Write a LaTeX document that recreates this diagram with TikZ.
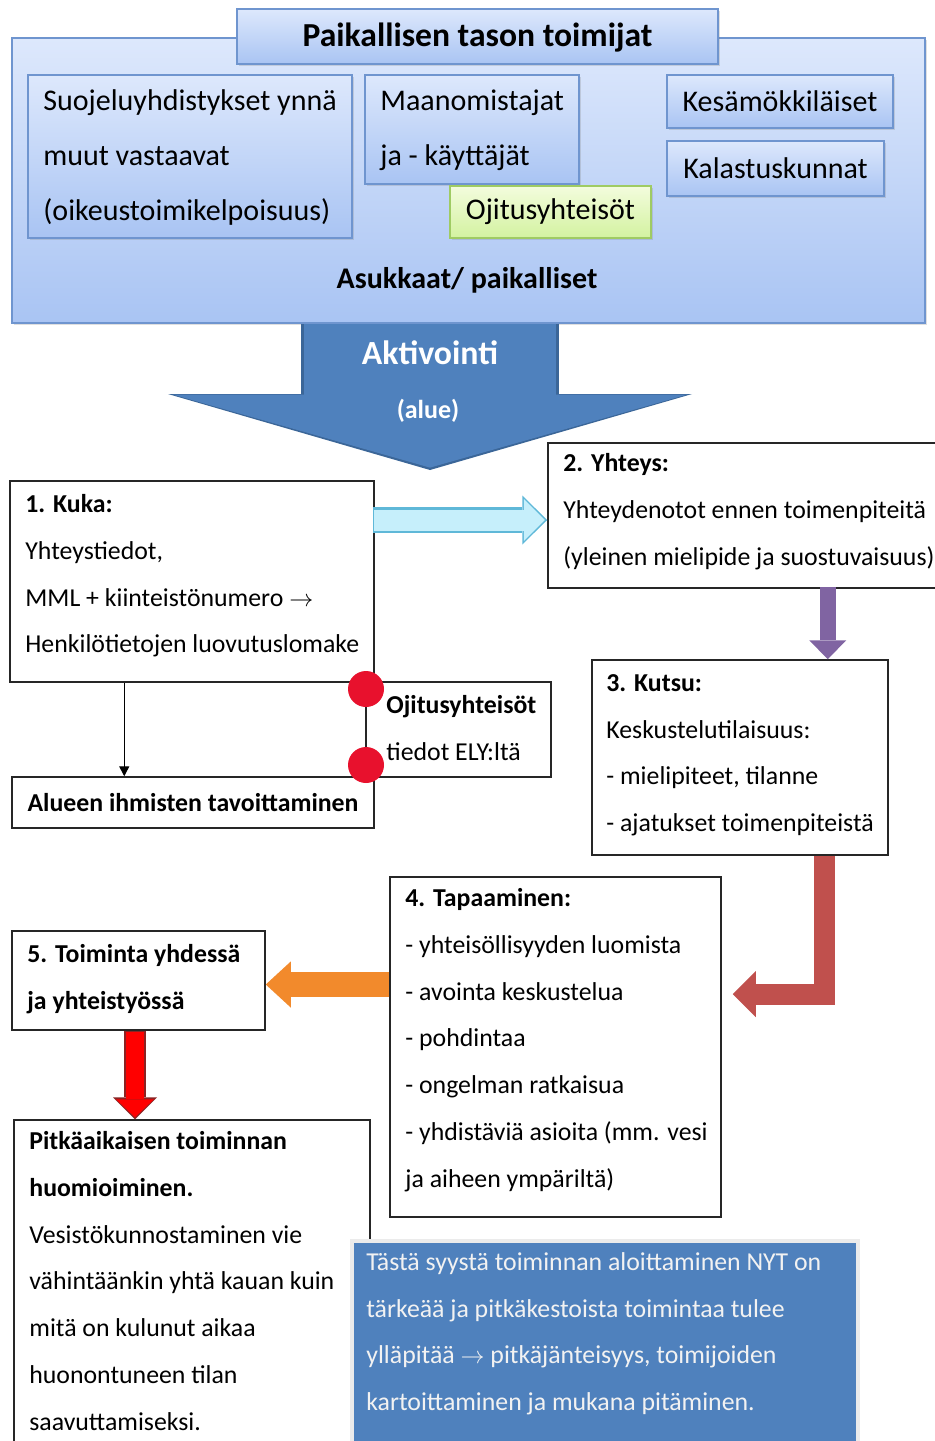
\documentclass[tikz,border=0pt]{standalone}
\usepackage{fontspec}
\setmainfont{Carlito}
\usetikzlibrary{arrows.meta,fit,calc,shadows}

\definecolor{frameblue}{HTML}{6F95CF}
\definecolor{paleblue}{HTML}{DDE8FC}
\definecolor{midblue}{HTML}{A9C4F3}
\definecolor{palegreen}{HTML}{F3FCDD}
\definecolor{midgreen}{HTML}{D3F2A0}
\definecolor{greenframe}{HTML}{9FCB63}
\definecolor{steel}{HTML}{4F81BD}
\definecolor{steeldark}{HTML}{3B6698}
\definecolor{skyfill}{HTML}{C6EFFB}
\definecolor{skyframe}{HTML}{5FB8D8}
\definecolor{violet}{HTML}{8064A2}
\definecolor{brick}{HTML}{C0504D}
\definecolor{tangerine}{HTML}{F28A2C}
\definecolor{dotred}{HTML}{E8112D}
\definecolor{darkred}{HTML}{8B2323}

\tikzset{
  panel/.style={draw=frameblue, line width=0.8pt, top color=paleblue, bottom color=midblue,
    inner sep=0pt, drop shadow={opacity=0.25, shadow xshift=0.8pt, shadow yshift=-1.2pt}},
  greenpanel/.style={panel, draw=greenframe, top color=palegreen, bottom color=midgreen},
  plainbox/.style={draw=black!85, line width=0.75pt, fill=white, inner sep=0pt},
  toptext/.style={font=\fontsize{15}{27.5}\selectfont, align=left, inner sep=0pt, anchor=north west},
  boxtext/.style={font=\fontsize{12.9}{23.4}\selectfont, align=left, inner sep=0pt, anchor=north west},
  midtext/.style={inner sep=0pt, anchor=center},
  reddot/.style={circle, fill=dotred, minimum size=18pt, inner sep=0pt},
  fat/.style n args={3}{line width=#1, line join=miter, -{Triangle[width=#2, length=#3, line width=0pt]}}
}

\begin{document}
\begin{tikzpicture}[x=0.5pt, y=-0.5pt]
\useasboundingbox (0,0) rectangle (935,1441);
\clip (0,0) rectangle (935,1441);

% toimijat
\node[panel, fit={(12,38) (925,323)}] (outer) {};
\node[panel, fit={(237,9) (718,64)}] (title) {};
\node[midtext, font=\fontsize{16.8}{20}\selectfont\bfseries] (titletxt) at ($(title)+(0,1)$) {Paikallisen tason toimijat};
\node[panel, fit={(28,75) (352,238)}] (suojelu) {};
\node[toptext] (suojelutxt) at (43,89) {Suojeluyhdistykset ynnä\\muut vastaavat\\(oikeustoimikelpoisuus)};
\node[panel, fit={(365,75) (579,184)}] (maan) {};
\node[toptext] (maantxt) at (380,89) {Maanomistajat\\ja - käyttäjät};
\node[greenpanel, fit={(450,186) (651,238)}] (ojitus) {};
\node[midtext, font=\fontsize{15}{18}\selectfont] (ojitustxt) at (ojitus) {Ojitusyhteisöt};
\node[panel, fit={(667,75) (893,128)}] (kesa) {};
\node[midtext, font=\fontsize{15}{18}\selectfont] (kesatxt) at (kesa) {Kesämökkiläiset};
\node[panel, fit={(667,141) (884,196)}] (kala) {};
\node[midtext, font=\fontsize{15}{18}\selectfont] (kalatxt) at (kala) {Kalastuskunnat};
\node[midtext, font=\fontsize{15}{18}\selectfont\bfseries] (asukkaat) at (467,280) {Asukkaat/ paikalliset};

% aktivointi
\coordinate (aktip) at (430,470);
\draw[fat={129pt}{262pt}{38pt}, steeldark] (aktip |- outer.south) -- (aktip);
\draw[fat={126pt}{257pt}{36.5pt}, steel, shorten >=1.2pt] (aktip |- outer.south) -- (aktip);
\node[midtext, font=\fontsize{16.9}{20}\selectfont\bfseries, text=white] (akt) at (430,353) {Aktivointi};
\node[midtext, font=\fontsize{13}{15}\selectfont\bfseries, text=white] (aluetxt) at (428,411) {(alue)};

% vaiheet
\node[plainbox, fit={(10,481) (374,682)}] (kuka) {};
\node[boxtext] (kukatxt) at (25,494) {\textbf{1. Kuka:}\\Yhteystiedot,\\MML + kiinteistönumero $\rightarrow$\\Henkilötietojen luovutuslomake};
\node[plainbox, fit={(12,777) (374,828)}] (alue) {};
\node[midtext, font=\fontsize{12.9}{15}\selectfont\bfseries] (aluetxt2) at (alue) {Alueen ihmisten tavoittaminen};
\node[plainbox, fit={(366,682) (551,777)}] (ely) {};
\node[boxtext] (elytxt) at (386,695) {\textbf{Ojitusyhteisöt}\\tiedot ELY:ltä};
\node[reddot] (dot1) at (366,689) {};
\node[reddot] (dot2) at (366,765) {};
\node[plainbox, fit={(548,443) (940,588)}] (yhteys) {};
\node[boxtext] (yhteystxt) at (563,453) {\textbf{2. Yhteys:}\\Yhteydenotot ennen toimenpiteitä\\(yleinen mielipide ja suostuvaisuus)};
\node[plainbox, fit={(592,660) (888,855)}] (kutsu) {};
\node[boxtext] (kutsutxt) at (606,674) {\textbf{3. Kutsu:}\\Keskustelutilaisuus:\\- mielipiteet, tilanne\\- ajatukset toimenpiteistä};
\node[plainbox, fit={(390,877) (721,1217)}] (tapaaminen) {};
\node[boxtext] (tapaamistxt) at (405,888) {\textbf{4. Tapaaminen:}\\- yhteisöllisyyden luomista\\- avointa keskustelua\\- pohdintaa\\- ongelman ratkaisua\\- yhdistäviä asioita (mm. vesi\\ja aiheen ympäriltä)};
\node[plainbox, fit={(12,931) (265,1030)}] (toiminta) {};
\node[boxtext, font=\fontsize{12.9}{23.4}\selectfont\bfseries] (toimintatxt) at (27,944) {5. Toiminta yhdessä\\ja yhteistyössä};
\node[plainbox, fit={(14,1120) (370,1470)}] (pitk) {};
\node[boxtext] (pitktxt) at (29,1131) {\textbf{Pitkäaikaisen toiminnan}\\\textbf{huomioiminen.}\\Vesistökunnostaminen vie\\vähintäänkin yhtä kauan kuin\\mitä on kulunut aikaa\\huonontuneen tilan\\saavuttamiseksi.};
\node[draw=black!8, line width=2pt, fill=steel, inner sep=0pt, fit={(352,1241) (858,1470)}] (syy) {};
\node[boxtext, text=white!95!black] (syytxt) at (366,1252) {Tästä syystä toiminnan aloittaminen NYT on\\tärkeää ja pitkäkestoista toimintaa tulee\\ylläpitää $\rightarrow$ pitkäjänteisyys, toimijoiden\\kartoittaminen ja mukana pitäminen.};

% nuolet
\draw[line width=0.7pt, -{Triangle[length=5pt, width=5pt]}] ($(kuka.south west)+(115,0)$) coordinate (k1) -- (k1 |- alue.north);
\draw[fat={13pt}{24.5pt}{12.5pt}, skyframe] ($(kuka.east |- yhteys.west)+(-2,4.5)$) -- ($(yhteys.west)+(0,4.5)$);
\draw[fat={10.5pt}{21pt}{10.5pt}, skyfill, shorten >=1.2pt] ($(kuka.east |- yhteys.west)+(-1,4.5)$) -- ($(yhteys.west)+(0,4.5)$);
\draw[fat={8pt}{18.5pt}{9.5pt}, violet] ($(kutsu.north east)+(-61,-72)$) -- ($(kutsu.north east)+(-61,0)$);
\draw[fat={10.5pt}{23pt}{11.5pt}, brick] ($(kutsu.south east)+(-64,0)$) |- ($(tapaaminen.east)+(11,-53)$);
\draw[fat={12.5pt}{23pt}{12.5pt}, tangerine] ($(tapaaminen.west |- toiminta.east)+(0,4)$) -- ($(toiminta.east)+(0,4)$);
\draw[fat={11pt}{22pt}{11pt}, darkred] ($(toiminta.south)+(-3.5,0)$) -- ($(toiminta.south |- pitk.north)+(-3.5,0)$);
\draw[fat={9pt}{19pt}{9pt}, red, shorten >=1pt] ($(toiminta.south)+(-3.5,1)$) -- ($(toiminta.south |- pitk.north)+(-3.5,0)$);
\end{tikzpicture}
\end{document}
